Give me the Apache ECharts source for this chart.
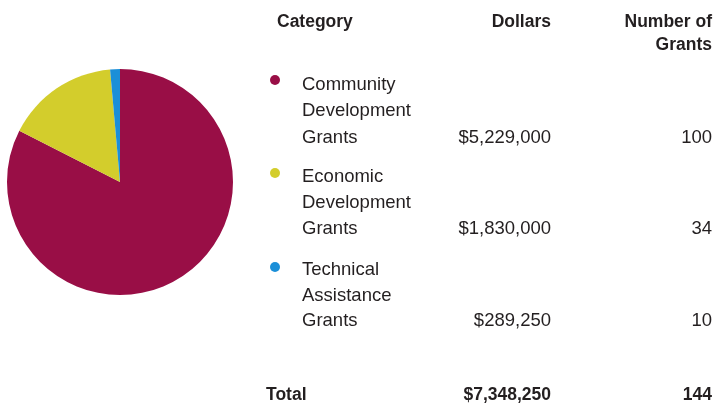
<!DOCTYPE html>
<html>
<head>
<meta charset="utf-8">
<script src="https://cdn.jsdelivr.net/npm/echarts@6/dist/echarts.min.js"></script>
<style>
html,body{margin:0;padding:0;background:#fff;}
#chart{width:715px;height:406px;}
</style>
</head>
<body>
<div id="chart"></div>
<script>
// ---- data ----
var categories = ['Community Development Grants', 'Economic Development Grants', 'Technical Assistance Grants'];
var categoryLines = [['Community', 'Development', 'Grants'], ['Economic', 'Development', 'Grants'], ['Technical', 'Assistance', 'Grants']];
var dollars = [5229000, 1830000, 289250];
var grantCounts = [100, 34, 10];
// slice shares (%) as drawn in the reference pie
var pieSharePercent = [82.5, 16.1, 1.4];
var headers = ['Category', 'Dollars', 'Number of', 'Grants'];
var totalLabel = 'Total';

// ---- styling ----
var colors = ['#990e46', '#d3cd2c', '#1b8fd8'];
var textColor = '#231f20';
var fontReg = '18.5px "Liberation Sans", Arial, sans-serif';
var fontBold = 'bold 17.5px "Liberation Sans", Arial, sans-serif';

function fmtDollars(v) { return '$' + v.toLocaleString('en-US'); }

var xDot = 275, xCat = 302, xDollarsR = 551, xCountR = 712;
var rowBaselines = [[91, 117, 144], [183, 209, 235], [276, 302, 327]];
var dotY = [80, 173, 267];

function txt(s, x, baseline, font, align, off) {
  return {
    type: 'text', x: x, y: baseline - (off || 6.5), silent: true,
    style: { text: s, font: font, fill: textColor, align: align || 'left', verticalAlign: 'middle' }
  };
}

var g = [];
g.push(txt(headers[0], 277, 29, fontBold, 'left', 6.5));
g.push(txt(headers[1], xDollarsR, 29, fontBold, 'right', 6.5));
g.push(txt(headers[2], xCountR, 29, fontBold, 'right', 6.5));
g.push(txt(headers[3], xCountR, 52, fontBold, 'right', 6.5));

categories.forEach(function (c, i) {
  g.push({ type: 'circle', silent: true, shape: { cx: xDot, cy: dotY[i], r: 5 }, style: { fill: colors[i] } });
  categoryLines[i].forEach(function (line, j) {
    g.push(txt(line, xCat, rowBaselines[i][j], fontReg));
  });
  g.push(txt(fmtDollars(dollars[i]), xDollarsR, rowBaselines[i][2], fontReg, 'right'));
  g.push(txt(String(grantCounts[i]), xCountR, rowBaselines[i][2], fontReg, 'right'));
});

var totalDollars = dollars.reduce(function (a, b) { return a + b; }, 0);
var totalCount = grantCounts.reduce(function (a, b) { return a + b; }, 0);
g.push(txt(totalLabel, 266, 402, fontBold, 'left', 6.5));
g.push(txt(fmtDollars(totalDollars), xDollarsR, 402, fontBold, 'right', 6.5));
g.push(txt(String(totalCount), xCountR, 402, fontBold, 'right', 6.5));

var chart = echarts.init(document.getElementById('chart'), null, { renderer: 'canvas' });
chart.setOption({
  animation: false,
  backgroundColor: '#ffffff',
  color: colors,
  series: [{
    type: 'pie',
    center: [120, 182],
    radius: [0, 113],
    startAngle: 90,
    clockwise: true,
    label: { show: false },
    labelLine: { show: false },
    emphasis: { disabled: true },
    itemStyle: { borderWidth: 0 },
    data: categories.map(function (c, i) {
      return { name: c, value: pieSharePercent[i] };
    })
  }],
  graphic: g
});
</script>
</body>
</html>
